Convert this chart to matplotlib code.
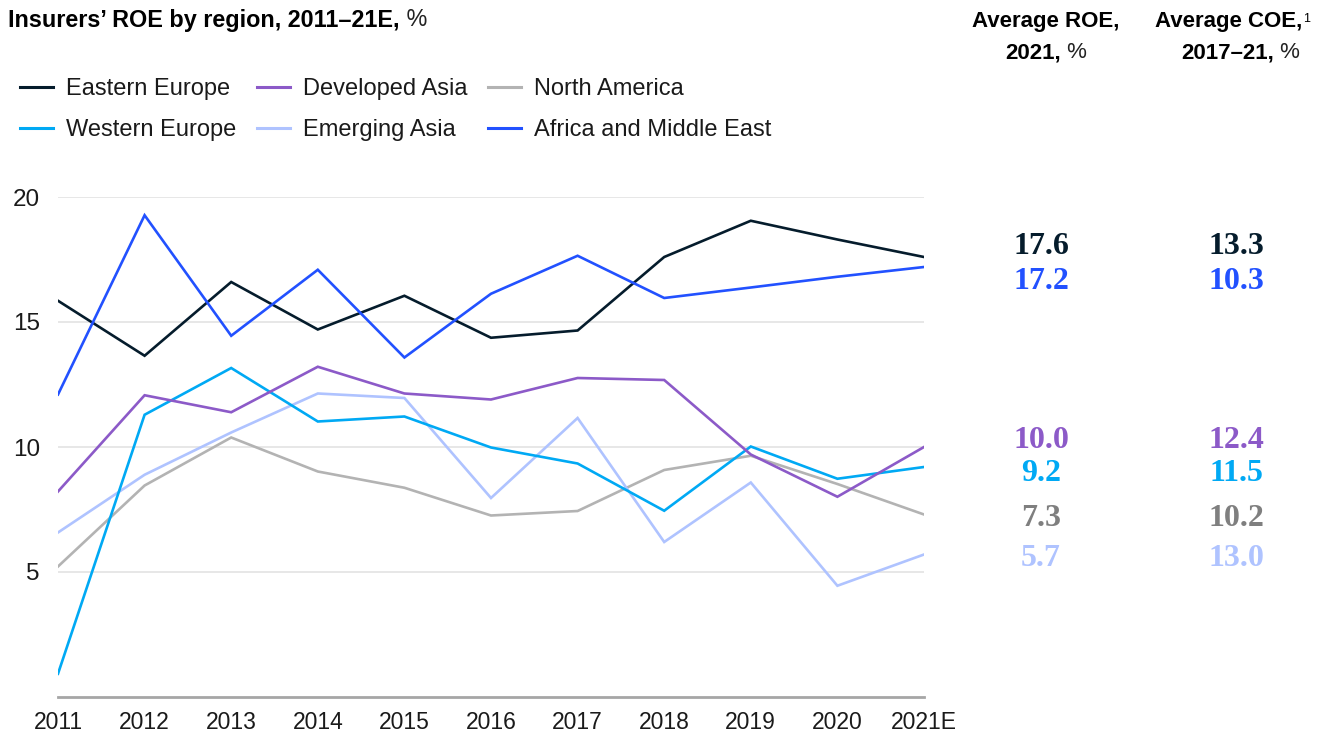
import numpy as np
import matplotlib
matplotlib.use("Agg")
from matplotlib import pyplot as plt
from matplotlib.lines import Line2D

# ------------------------------------------------------------
# Data
# ------------------------------------------------------------
years = ["2011", "2012", "2013", "2014", "2015", "2016",
         "2017", "2018", "2019", "2020", "2021E"]

eastern_europe = [15.85, 13.65, 16.6, 14.7, 16.05, 14.37, 14.66, 17.6, 19.05, 18.3, 17.6]
africa_me      = [12.1, 19.27, 14.45, 17.09, 13.58, 16.13, 17.65, 15.96, 16.38, 16.81, 17.2]
developed_asia = [8.22, 12.07, 11.39, 13.21, 12.14, 11.9, 12.76, 12.68, 9.7, 8.01, 10.0]
western_europe = [0.93, 11.29, 13.16, 11.02, 11.22, 9.98, 9.34, 7.45, 10.02, 8.73, 9.2]
emerging_asia  = [6.58, 8.89, 10.58, 12.14, 11.96, 7.96, 11.16, 6.2, 8.58, 4.45, 5.7]
north_america  = [5.22, 8.46, 10.38, 9.02, 8.37, 7.26, 7.44, 9.08, 9.65, 8.52, 7.3]

regions = ["Eastern Europe", "Developed Asia", "North America",
           "Western Europe", "Emerging Asia", "Africa and Middle East"]
series = [eastern_europe, developed_asia, north_america,
          western_europe, emerging_asia, africa_me]
colors = ["#051C2C", "#8C5AC8", "#B3B3B3", "#00A9F4", "#AFC3FF", "#2251FF"]

avg_roe = ["17.6", "17.2", "10.0", "9.2", "7.3", "5.7"]
avg_coe = ["13.3", "10.3", "12.4", "11.5", "10.2", "13.0"]
num_colors = ["#051C2C", "#2251FF", "#8C5AC8", "#00A9F4", "#7F7F7F", "#AFC3FF"]

# ------------------------------------------------------------
# Figure
# ------------------------------------------------------------
plt.rcParams['font.family'] = ['Liberation Sans', 'DejaVu Sans']
W, H = 1327, 735
fig = plt.figure(figsize=(W / 100, H / 100), dpi=100)

def fx(px):
    return px / W

def fy(py):
    return 1 - py / H

ax = fig.add_axes([fx(58), fy(697), fx(924 - 58), (697 - 197) / H])

x = np.arange(len(years))
# draw order: greys/lights underneath
order = [2, 4, 3, 1, 0, 5]
for i in order:
    ax.plot(x, series[i], color=colors[i], lw=1.9, solid_joinstyle='miter', zorder=3)

ax.set_xlim(0, len(years) - 1)
ax.set_ylim(0, 20)
ax.set_yticks([5, 10, 15, 20])
ax.set_xticks(x)
ax.set_xticklabels(years)
ax.grid(axis='y', color='#E0E0E0', lw=1.1)
ax.tick_params(length=0, colors='#1a1a1a')
ax.tick_params(axis='x', labelsize=16.5, pad=10)
ax.tick_params(axis='y', labelsize=17.5, pad=13)
for s in ['top', 'right', 'left']:
    ax.spines[s].set_visible(False)
ax.spines['bottom'].set_color('#A6A6A6')
ax.spines['bottom'].set_linewidth(2)

# title
hsize = 16
tsize = 16.8
t = fig.text(fx(8), fy(20), "Insurers\u2019 ROE by region, 2011\u201321E,",
             fontsize=tsize, fontweight='bold', va='center', ha='left', color='#000000')
fig.canvas.draw()
ax.annotate(" %", xy=(1, 0), xycoords=t, va='bottom', ha='left', fontsize=tsize, color='#222222')

# legend (matplotlib fills columns first)
leg_order = [0, 3, 1, 4, 2, 5]
handles = [Line2D([], [], color=colors[i], lw=2.2) for i in leg_order]
labels = [regions[i] for i in leg_order]
fig.legend(handles, labels, loc='upper left', bbox_to_anchor=(fx(20), fy(78)),
           ncol=3, frameon=False, fontsize=17, handlelength=1.4,
           handletextpad=0.55, columnspacing=0.88, labelspacing=0.8,
           borderaxespad=0, borderpad=0, labelcolor='#1a1a1a')

# column headers
fig.text(fx(1046), fy(22), "Average ROE,", fontsize=hsize, fontweight='bold',
         ha='center', va='center')
h1b = fig.text(fx(1033), fy(53), "2021,", fontsize=hsize, fontweight='bold',
               ha='center', va='center')
ax.annotate(" %", xy=(1, 0), xycoords=h1b, va='bottom', ha='left', fontsize=hsize, color='#222222')
h2 = fig.text(fx(1229), fy(22), "Average COE,", fontsize=hsize, fontweight='bold',
              ha='center', va='center')
ax.annotate("1", xy=(1, 1), xycoords=h2, va='top', ha='left', fontsize=9,
            xytext=(0.5, -1), textcoords='offset points')
h2b = fig.text(fx(1228), fy(53), "2017\u201321,", fontsize=hsize, fontweight='bold',
               ha='center', va='center')
ax.annotate(" %", xy=(1, 0), xycoords=h2b, va='bottom', ha='left', fontsize=hsize, color='#222222')

# average values
num_y = [247, 281, 440, 474, 518, 558]
for roe, coe, c, py in zip(avg_roe, avg_coe, num_colors, num_y):
    fig.text(fx(1041), fy(py), roe, color=c, fontsize=23, fontweight='bold',
             family='Liberation Serif', ha='center', va='center')
    fig.text(fx(1236), fy(py), coe, color=c, fontsize=23, fontweight='bold',
             family='Liberation Serif', ha='center', va='center')

fig.savefig("out.png", dpi=100)
